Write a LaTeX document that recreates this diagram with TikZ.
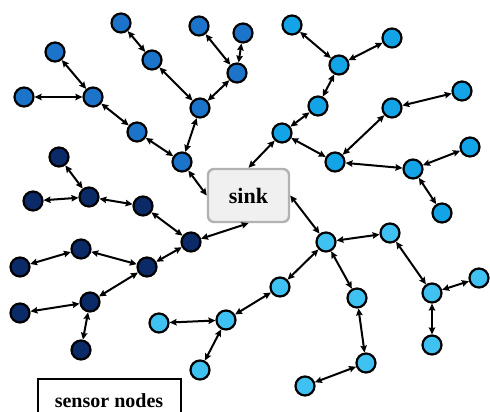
\documentclass[tikz,border=0pt]{standalone}
\usepackage{fontspec}
\setmainfont{Liberation Serif}
\usetikzlibrary{arrows.meta}

\definecolor{midblue}{HTML}{1B74C9}
\definecolor{darkblue}{HTML}{0B2A68}
\definecolor{topblue}{HTML}{12A4E6}
\definecolor{lowblue}{HTML}{3FC1F1}

\tikzset{
    sensor/.style={circle,draw=black,line width=2.2pt,minimum size=19pt,inner sep=0pt},
    mid/.style={sensor,fill=midblue},
    dark/.style={sensor,fill=darkblue},
    top/.style={sensor,fill=topblue},
    low/.style={sensor,fill=lowblue},
    link/.style={{Stealth[length=7pt,width=6.5pt,inset=1pt]}-{Stealth[length=7pt,width=6.5pt,inset=1pt]},line width=2pt},
}

\begin{document}
\begin{tikzpicture}[x=1pt,y=-1pt]
        \clip (0,0) rectangle (490,412);

        \node[draw=gray!60,fill=gray!12,line width=2.4pt,rounded corners=6pt,
              minimum width=81pt,minimum height=53pt,
              font=\fontsize{22}{26}\selectfont\bfseries] at (248.5,195.5) (sink) {sink};

        \node[mid] at (121,23) (m-1) {};
        \node[mid] at (152,60) (m-2) {};
        \node[mid] at (199,26) (m-3) {};
        \node[mid] at (243,33) (m-4) {};
        \node[mid] at (237,73) (m-5) {};
        \node[mid] at (200,108) (m-6) {};
        \node[mid] at (55,52) (m-7) {};
        \node[mid] at (24,97) (m-8) {};
        \node[mid] at (93,97) (m-9) {};
        \node[mid] at (137,132) (m-10) {};
        \node[mid] at (182,162) (m-11) {};

        \node[top] at (292,25) (t-1) {};
        \node[top] at (392,38) (t-2) {};
        \node[top] at (339,65) (t-3) {};
        \node[top] at (318,106) (t-4) {};
        \node[top] at (282,133) (t-5) {};
        \node[top] at (462,91) (t-6) {};
        \node[top] at (392,108) (t-7) {};
        \node[top] at (335,162) (t-8) {};
        \node[top] at (470,147) (t-9) {};
        \node[top] at (413,169) (t-10) {};
        \node[top] at (442,213) (t-11) {};

        \node[dark] at (59,157) (d-1) {};
        \node[dark] at (33,201) (d-2) {};
        \node[dark] at (89,197) (d-3) {};
        \node[dark] at (143,206) (d-4) {};
        \node[dark] at (191,242) (d-5) {};
        \node[dark] at (81,249) (d-6) {};
        \node[dark] at (20,267) (d-7) {};
        \node[dark] at (147,267) (d-8) {};
        \node[dark] at (90,302) (d-9) {};
        \node[dark] at (20,313) (d-10) {};
        \node[dark] at (81,350) (d-11) {};

        \node[low] at (326,242) (b-1) {};
        \node[low] at (390,233) (b-2) {};
        \node[low] at (432,293) (b-3) {};
        \node[low] at (479,278) (b-4) {};
        \node[low] at (432,345) (b-5) {};
        \node[low] at (357,298) (b-6) {};
        \node[low] at (366,363) (b-7) {};
        \node[low] at (305,386) (b-8) {};
        \node[low] at (280,287) (b-9) {};
        \node[low] at (226,320) (b-10) {};
        \node[low] at (159,323) (b-11) {};
        \node[low] at (200,370) (b-12) {};

        \node[draw,line width=2pt,anchor=north,minimum width=143pt,minimum height=44pt,
              font=\fontsize{20}{24}\selectfont\bfseries] at (109,378) (legend) {sensor nodes};

        \path[link]
        (m-1) edge (m-2)
        (m-2) edge (m-6)
        (m-3) edge (m-5)
        (m-4) edge (m-5)
        (m-5) edge (m-6)
        (m-6) edge (m-11)
        (m-7) edge (m-9)
        (m-8) edge (m-9)
        (m-9) edge (m-10)
        (m-10) edge (m-11)
        (m-11) edge (sink.west)

        (t-1) edge (t-3)
        (t-2) edge (t-3)
        (t-3) edge (t-4)
        (t-4) edge (t-5)
        (t-5) edge (sink.north)
        (t-5) edge (t-8)
        (t-7) edge (t-6)
        (t-7) edge (t-8)
        (t-8) edge (t-10)
        (t-9) edge (t-10)
        (t-10) edge (t-11)

        (d-1) edge (d-3)
        (d-2) edge (d-3)
        (d-3) edge (d-4)
        (d-4) edge (d-5)
        (d-5) edge (sink.south)
        (d-5) edge (d-8)
        (d-8) edge (d-6)
        (d-6) edge (d-7)
        (d-8) edge (d-9)
        (d-9) edge (d-10)
        (d-9) edge (d-11)

        (b-1) edge (sink.east)
        (b-1) edge (b-2)
        (b-2) edge (b-3)
        (b-3) edge (b-4)
        (b-3) edge (b-5)
        (b-1) edge (b-6)
        (b-6) edge (b-7)
        (b-7) edge (b-8)
        (b-1) edge (b-9)
        (b-9) edge (b-10)
        (b-10) edge (b-11)
        (b-10) edge (b-12)
        ;
\end{tikzpicture}
\end{document}
